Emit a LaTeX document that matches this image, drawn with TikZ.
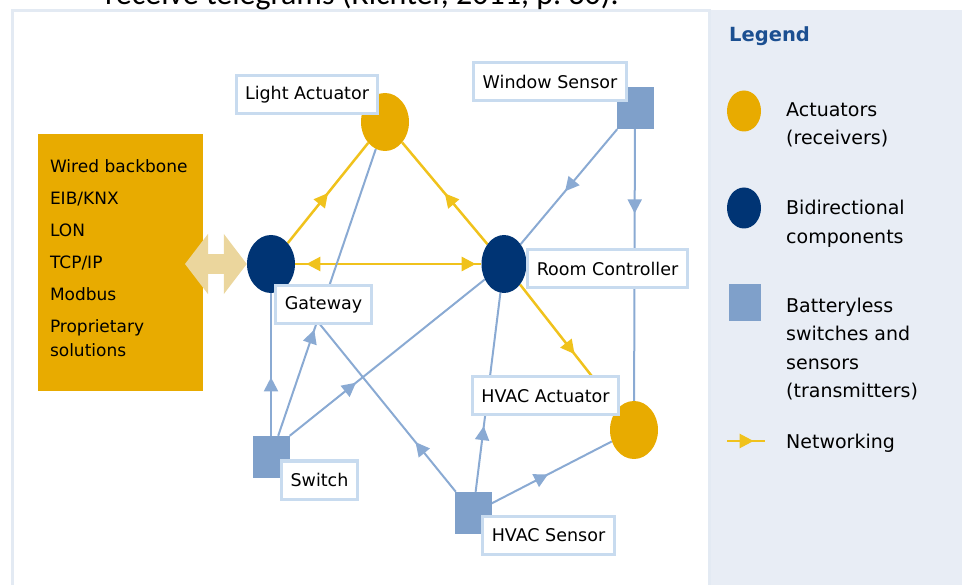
\documentclass[tikz,border=0pt]{standalone}
\usepackage{fontspec}
\setmainfont{DejaVu Sans}
\newfontfamily\capfont{Carlito}
\usetikzlibrary{arrows.meta,shapes.geometric,decorations.markings}

\definecolor{navy}{HTML}{003474}
\definecolor{amber}{HTML}{E8AB00}
\definecolor{netyellow}{HTML}{F0C21C}
\definecolor{radioblue}{HTML}{8AAAD3}
\definecolor{boxblue}{HTML}{7FA0CA}
\definecolor{tagline}{HTML}{C8DBEF}
\definecolor{panel}{HTML}{E8EDF5}
\definecolor{framegray}{HTML}{E3EAF3}
\definecolor{linktan}{HTML}{EBD69D}
\definecolor{legendblue}{HTML}{1B4F91}

\pgfdeclarelayer{back}
\pgfdeclarelayer{wires}
\pgfsetlayers{back,wires,main}

\tikzset{
  actuator/.style={ellipse, fill=amber, minimum width=48pt, minimum height=58pt, inner sep=0pt},
  bidir/.style={ellipse, fill=navy, minimum width=48pt, minimum height=58pt, inner sep=0pt},
  sensor/.style={rectangle, fill=boxblue, minimum width=37pt, minimum height=42pt, inner sep=0pt},
  tag/.style={draw=tagline, line width=3pt, fill=white, inner xsep=9pt,
    minimum height=38pt, font=\fontsize{17.5}{21}\selectfont},
  backbone/.style={fill=amber, minimum width=165pt, minimum height=257pt, inner sep=0pt,
    align=left, text width=140pt, font=\fontsize{17}{24}\selectfont},
  keytext/.style={anchor=west, align=left, inner sep=0pt, font=\fontsize{19}{28.5}\selectfont},
  net/.style={draw=netyellow, line width=2.5pt},
  radio/.style={draw=radioblue, line width=2pt},
  tipat/.style={postaction={decorate, decoration={markings,
    mark=at position #1 with {\arrow{Triangle[length=14pt,width=14pt]}}}}},
  tipback/.style={postaction={decorate, decoration={markings,
    mark=at position #1 with {\arrowreversed{Triangle[length=14pt,width=14pt]}}}}},
}

\begin{document}
\begin{tikzpicture}[x=1pt,y=-1pt]
  \useasboundingbox (0,0) rectangle (962,585);
  \clip (0,0) rectangle (962,585);

  % running text of the page above the figure
  \node[font=\capfont\fontsize{32}{38}\selectfont, anchor=base west, inner sep=0pt] (pagetext)
    at (105,5) {receive telegrams (Richter, 2011, p.~30).};

  \begin{pgfonlayer}{back}
    \fill[panel] (709,10) rectangle (962,585);
    \draw[framegray, line width=3pt] (12,11) rectangle (709,592);
  \end{pgfonlayer}

  % wired side
  \node[backbone] (backbone) at (120,262.5) {Wired backbone\\[8pt]EIB/KNX\\[8pt]LON\\[8pt]TCP/IP\\[8pt]Modbus\\[8pt]Proprietary\\solutions\\[-16pt]\mbox{}};

  % radio components
  \node[bidir] (gateway) at (271,264) {};
  \node[actuator] (lightact) at (385,122) {};
  \node[bidir, minimum width=45pt] (roomctl) at (504,264) {};
  \node[actuator] (hvacact) at (634,430) {};
  \node[sensor] (winsens) at (635,108) {};
  \node[sensor] (switch) at (271,457) {};
  \node[sensor] (hvacsens) at (473,513) {};

  \coordinate (busend) at (185,264);
  \draw[linktan, line width=20pt, {Triangle[length=23pt,width=59pt]}-{Triangle[length=23pt,width=59pt]}]
    (busend) -- (gateway.west);

  % name tags
  \node[tag] (lightacttag) at (307,94.5) {Light Actuator};
  \node[tag] (winsenstag) at (550,81.5) {Window Sensor};
  \node[tag] (roomctltag) at (607.5,268.5) {Room Controller};
  \node[tag] (gatewaytag) at (323.5,305) {Gateway};
  \node[tag] (switchtag) at (319.5,480) {Switch};
  \node[tag] (hvacacttag) at (545.5,396) {HVAC Actuator};
  \node[tag] (hvacsenstag) at (548.5,535.5) {HVAC Sensor};

  \begin{pgfonlayer}{wires}
    % networking
    \draw[net, tipat=0.5] (gateway) -- (lightact);
    \draw[net, tipat=0.5] (roomctl) -- (lightact);
    \draw[net, tipback=0.06, tipat=0.97] (gateway) -- (roomctl);
    \draw[net, tipat=0.56] (roomctl) -- (hvacact);
    % telegrams
    \draw[radio, tipat=0.54] (winsens) -- (roomctl);
    \draw[radio, tipat=0.31] (winsens) -- (hvacact);
    \draw[radio, tipat=0.41] (switch) -- (gateway);
    \draw[radio, tipat=0.37] (switch) -- (lightact);
    \draw[radio, tipat=0.34] (switch.north east) -- (roomctl);
    \draw[radio, tipat=0.24] (hvacsens) -- (gateway);
    \draw[radio, tipat=0.33] (hvacsens) -- (roomctl);
    \draw[radio, tipat=0.47] (hvacsens) -- (hvacact);
  \end{pgfonlayer}

  % legend
  \node[font=\bfseries\fontsize{19.5}{24}\selectfont, text=legendblue, anchor=west, inner sep=0pt]
    (legendhead) at (729,36) {Legend};
  \node[actuator, minimum width=34pt, minimum height=41pt] (keyact) at (744,111) {};
  \node[keytext] (keyacttxt) at (786,125) {Actuators\\(receivers)};
  \node[bidir, minimum width=34pt, minimum height=41pt] (keybidir) at (744,208) {};
  \node[keytext] (keybidirtxt) at (786,224) {Bidirectional\\components};
  \node[sensor, minimum width=32pt, minimum height=37pt] (keysensor) at (745,303) {};
  \node[keytext] (keysensortxt) at (786,349) {Batteryless\\switches and\\sensors\\(transmitters)};
  \coordinate (keynetA) at (727,441);
  \coordinate (keynetB) at (765,441);
  \draw[net, tipat=0.7] (keynetA) -- (keynetB);
  \node[keytext] (keynettxt) at (786,443) {Networking};
\end{tikzpicture}
\end{document}
